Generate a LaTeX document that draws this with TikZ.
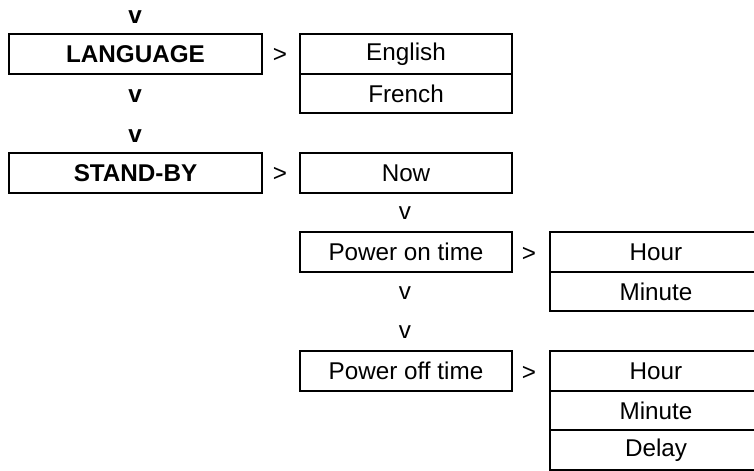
\documentclass[tikz,border=0pt]{standalone}
\usepackage{fontspec}
\setmainfont{Liberation Sans}
\begin{document}
\begin{tikzpicture}[font=\fontsize{13.8}{16}\selectfont, line width=1.2pt,
          mb/.style={draw, minimum width=5.06cm, minimum height=0.8cm, inner sep=0pt, font=\fontsize{13.8}{16}\selectfont\bfseries},
          sb/.style={draw, minimum width=4.24cm, minimum height=0.79cm, inner sep=0pt},
          dn/.style={inner sep=0pt},
          rt/.style={inner sep=0pt}]
        \useasboundingbox (0,0) rectangle (15.08,9.4);
        % left column
        \node[mb] (lang) at (2.71,8.32) {LANGUAGE};
        \node[mb] (stby) at (2.71,5.94) {STAND-BY};
        \foreach \nm/\py in {a/9.06, b/7.48, c/6.68} {
          \node[dn, font=\fontsize{13.8}{16}\selectfont\bfseries] (v\nm) at (2.7,\py) {v};
        }
        % language choices
        \node[rt] (r1) at (5.6,8.29) {>};
        \node[sb] (eng) at (8.12,8.32) {English};
        \node[sb] (fre) at (8.12,7.53) {French};
        % stand-by column
        \node[rt] (r2) at (5.6,5.91) {>};
        \node[sb] (now) at (8.12,5.94) {Now};
        \node[sb] (pon) at (8.12,4.36) {Power on time};
        \node[sb] (poff) at (8.12,1.98) {Power off time};
        \foreach \nm/\py in {d/5.14, e/3.54, f/2.76} {
          \node[dn] (v\nm) at (8.1,\py) {v};
        }
        % time settings
        \node[rt] (r3) at (10.58,4.31) {>};
        \node[sb] (onh) at (13.12,4.36) {Hour};
        \node[sb] (onm) at (13.12,3.57) {Minute};
        \node[rt] (r4) at (10.58,1.93) {>};
        \node[sb] (offh) at (13.12,1.98) {Hour};
        \node[sb] (offm) at (13.12,1.19) {Minute};
        \node[sb] (offd) at (13.12,0.40) {Delay};
      \end{tikzpicture}
\end{document}
